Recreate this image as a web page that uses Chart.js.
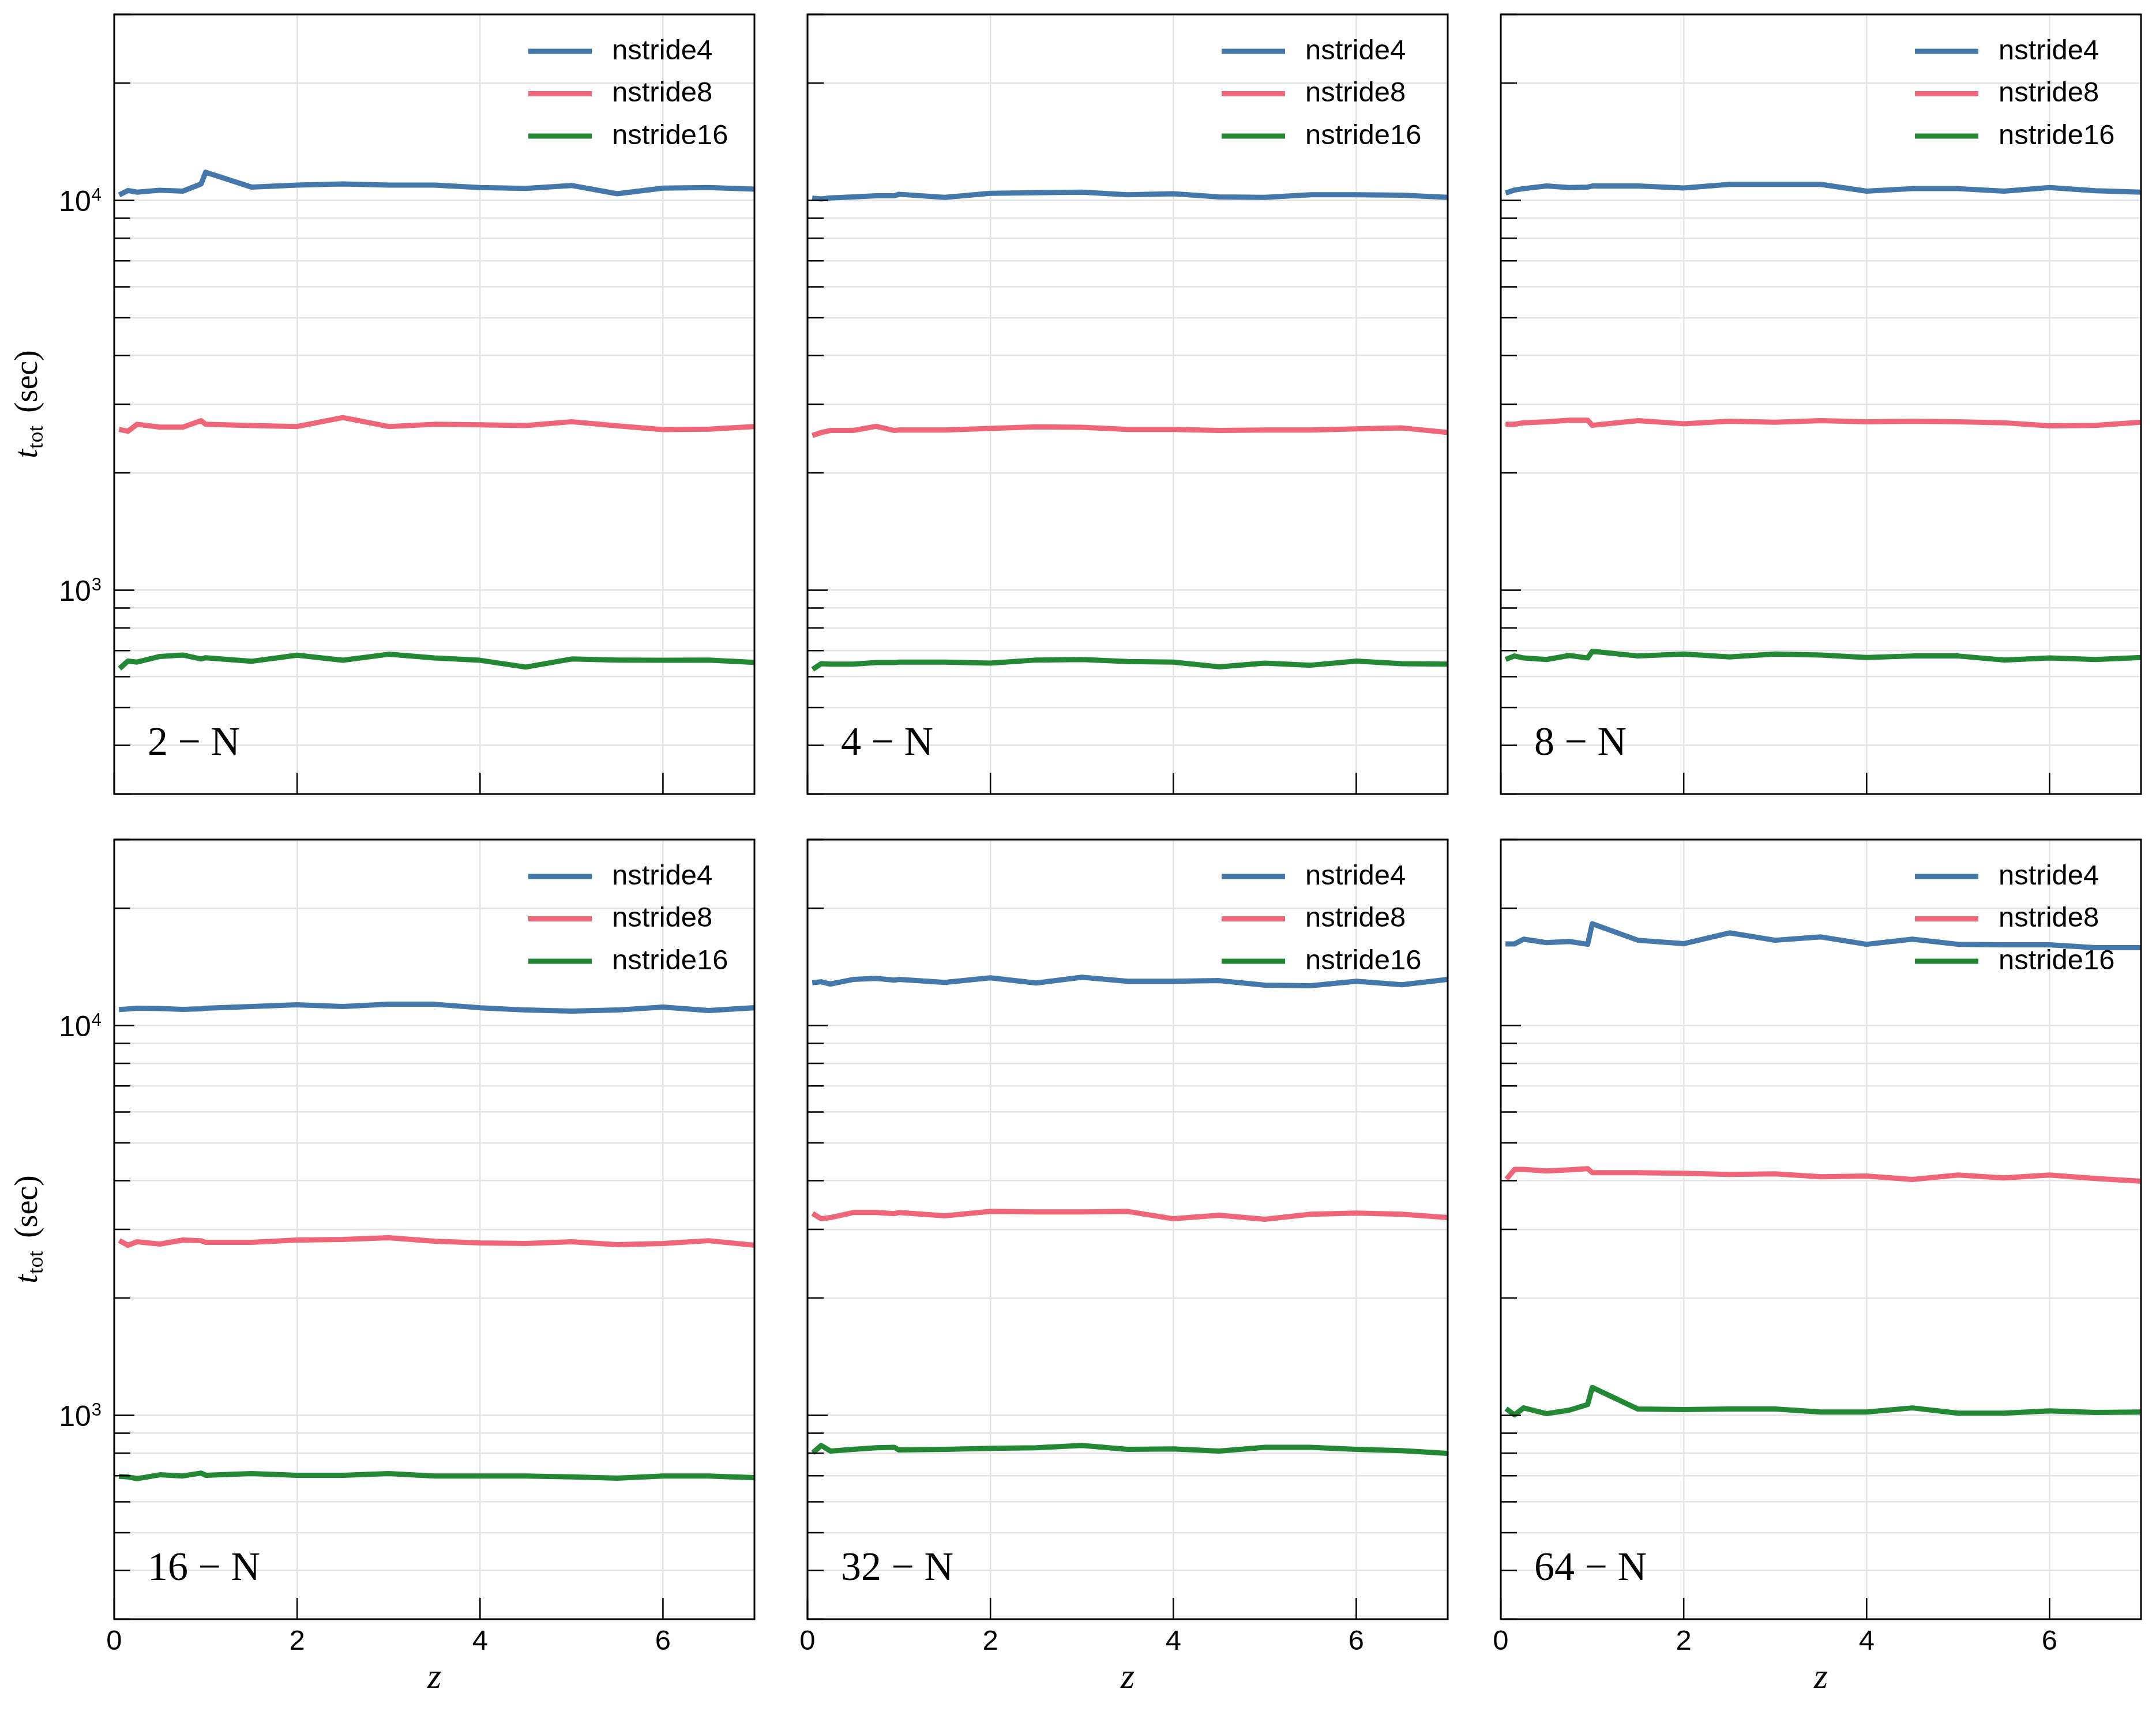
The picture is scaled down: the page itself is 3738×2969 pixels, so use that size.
<!DOCTYPE html>
<html>
<head>
<meta charset="utf-8">
<title>t_tot vs z</title>
<script src="https://cdn.jsdelivr.net/npm/chart.js@4.4.1/dist/chart.umd.min.js"></script>
<style>
  html, body { margin: 0; padding: 0; background: #fff; }
  #figure { position: relative; width: 3738px; height: 2969px; background: #fff; overflow: hidden; }
  #figure canvas { position: absolute; }
</style>
</head>
<body>
<div id="figure"></div>
<script>
// redshift samples shared by every run
const redshift = [0.08, 0.15, 0.25, 0.5, 0.75, 0.95, 1.0, 1.5, 2, 2.5, 3, 3.5, 4, 4.5, 5, 5.5, 6, 6.5, 7];

const panelNames = ['2 \u2212 N', '4 \u2212 N', '8 \u2212 N', '16 \u2212 N', '32 \u2212 N', '64 \u2212 N'];
const seriesLabels = ['nstride4', 'nstride8', 'nstride16'];
const seriesColors = ['#4477AA', '#EE6677', '#228833'];

// t_tot (sec) per panel
const n2_stride4  = [10400, 10600, 10500, 10620, 10560, 11020, 11810, 10820, 10950, 11020, 10950, 10950, 10790, 10730, 10920, 10400, 10750, 10790, 10690];
const n2_stride8  = [2577, 2557, 2664, 2620, 2620, 2723, 2664, 2645, 2630, 2773, 2630, 2664, 2655, 2645, 2705, 2640, 2582, 2590, 2630];
const n2_stride16 = [636, 658, 654, 676, 682, 666, 671, 657, 681, 661, 685, 670, 661, 635, 666, 662, 661, 662, 653];

const n4_stride4  = [10120, 10090, 10150, 10210, 10280, 10280, 10370, 10180, 10430, 10460, 10500, 10340, 10400, 10210, 10180, 10340, 10340, 10310, 10180];
const n4_stride8  = [2507, 2538, 2569, 2569, 2633, 2569, 2576, 2576, 2600, 2624, 2617, 2585, 2585, 2569, 2576, 2576, 2593, 2608, 2538];
const n4_stride16 = [632, 648, 646, 646, 652, 652, 654, 654, 650, 662, 664, 656, 654, 636, 650, 642, 658, 648, 646];

const n8_stride4  = [10500, 10630, 10720, 10890, 10790, 10820, 10890, 10890, 10760, 10990, 10990, 10990, 10560, 10720, 10720, 10560, 10790, 10590, 10500];
const n8_stride8  = [2665, 2665, 2689, 2704, 2729, 2729, 2648, 2722, 2673, 2714, 2697, 2722, 2704, 2714, 2704, 2689, 2640, 2648, 2697];
const n8_stride16 = [668, 678, 670, 664, 680, 670, 697, 678, 686, 674, 686, 682, 672, 678, 678, 662, 670, 664, 672];

const n16_stride4  = [11000, 11030, 11080, 11060, 11000, 11040, 11080, 11190, 11310, 11190, 11340, 11340, 11110, 10960, 10890, 10960, 11150, 10930, 11110];
const n16_stride8  = [2788, 2732, 2788, 2750, 2817, 2806, 2779, 2779, 2817, 2826, 2855, 2797, 2769, 2760, 2788, 2741, 2760, 2806, 2732];
const n16_stride16 = [697, 695, 688, 704, 699, 711, 702, 709, 702, 702, 709, 699, 699, 699, 695, 690, 699, 699, 692];

const n32_stride4  = [12900, 12950, 12780, 13130, 13210, 13080, 13130, 12900, 13260, 12860, 13300, 12990, 12990, 13040, 12690, 12650, 12990, 12730, 13130];
const n32_stride8  = [3270, 3194, 3216, 3314, 3314, 3292, 3314, 3249, 3336, 3325, 3325, 3336, 3194, 3260, 3184, 3281, 3303, 3281, 3216];
const n32_stride16 = [810, 837, 810, 818, 826, 828, 815, 818, 823, 826, 837, 818, 820, 810, 828, 828, 818, 812, 799];

const n64_stride4  = [16200, 16200, 16660, 16320, 16430, 16160, 18240, 16550, 16220, 17290, 16550, 16880, 16160, 16660, 16160, 16110, 16110, 15840, 15840];
const n64_stride8  = [4083, 4274, 4274, 4235, 4264, 4295, 4193, 4193, 4179, 4150, 4165, 4095, 4110, 4027, 4137, 4066, 4137, 4052, 3987];
const n64_stride16 = [1031, 1003, 1045, 1010, 1031, 1066, 1179, 1038, 1035, 1038, 1038, 1020, 1020, 1045, 1013, 1013, 1027, 1017, 1020];

const panelSeries = [
    [n2_stride4, n2_stride8, n2_stride16],
    [n4_stride4, n4_stride8, n4_stride16],
    [n8_stride4, n8_stride8, n8_stride16],
    [n16_stride4, n16_stride8, n16_stride16],
    [n32_stride4, n32_stride8, n32_stride16],
    [n64_stride4, n64_stride8, n64_stride16]
];

// axes
const xTickValues = [0, 2, 4, 6];
const yTickValues = [300, 400, 500, 600, 700, 800, 900, 1000, 2000, 3000, 4000, 5000, 6000, 7000, 8000, 9000, 10000, 20000, 30000];
const yLabelValues = [1000, 10000];

// figure layout (px)
const plotLefts = [198, 1400, 2602];
const plotTops = [25, 1456];
const plotW = 1110;
const plotH = 1352;
const axisW = 198;
const padTop = 25;
const padRight = 25;
const figH = 2969;

function strokeLine(ctx, x1, y1, x2, y2) {
    ctx.beginPath();
    ctx.moveTo(x1, y1);
    ctx.lineTo(x2, y2);
    ctx.stroke();
}

// ticks inside, frame, panel tag, legend, y labels
const panelDecor = {
    id: 'panelDecor',
    afterDraw(chart, args, opts) {
        const ctx = chart.ctx;
        const a = chart.chartArea;
        const x = chart.scales.x;
        const y = chart.scales.y;
        ctx.save();

        ctx.strokeStyle = '#000';
        ctx.lineWidth = 2.5;
        yTickValues.forEach(function (v) {
            const py = y.getPixelForValue(v);
            const len = yLabelValues.includes(v) ? 35 : 28;
            strokeLine(ctx, a.left, py, a.left + len, py);
        });
        xTickValues.forEach(function (v) {
            const px = x.getPixelForValue(v);
            strokeLine(ctx, px, a.bottom, px, a.bottom - 37);
        });

        ctx.lineWidth = 3;
        ctx.strokeRect(a.left, a.top, a.right - a.left, a.bottom - a.top);

        ctx.fillStyle = '#000';
        ctx.font = '70px "Liberation Serif"';
        ctx.textAlign = 'left';
        ctx.textBaseline = 'alphabetic';
        ctx.fillText(opts.name, a.left + 58, a.bottom - 68);

        // legend
        chart.data.datasets.forEach(function (ds, i) {
            const ly = a.top + 64 + i * 73.5;
            ctx.strokeStyle = ds.borderColor;
            ctx.lineWidth = 9;
            ctx.lineCap = 'butt';
            strokeLine(ctx, a.right - 392, ly, a.right - 282, ly);
            ctx.fillStyle = '#000';
            ctx.font = '49px "Liberation Sans"';
            ctx.textBaseline = 'middle';
            ctx.fillText(ds.label, a.right - 247, ly);
        });

        if (opts.leftColumn) {
            yLabelValues.forEach(function (v) {
                const py = y.getPixelForValue(v);
                const exp = String(Math.round(Math.log10(v)));
                ctx.textBaseline = 'alphabetic';
                ctx.textAlign = 'right';
                ctx.font = '31px "Liberation Sans"';
                const right = a.left - 22;
                ctx.fillText(exp, right, py);
                const supW = ctx.measureText(exp).width;
                ctx.font = '50px "Liberation Sans"';
                ctx.fillText('10', right - supW - 1, py + 18);
            });

            // y title: t_tot (sec)
            const parts = [
                { text: 't', font: 'italic 56px "Liberation Serif"', dy: 0, gap: 0 },
                { text: 'tot', font: '38px "Liberation Serif"', dy: 10, gap: 1 },
                { text: '(sec)', font: '56px "Liberation Serif"', dy: 0, gap: 22 }
            ];
            let total = 0;
            parts.forEach(function (p) {
                ctx.font = p.font;
                p.w = ctx.measureText(p.text).width;
                total += p.gap + p.w;
            });
            ctx.translate(64, (a.top + a.bottom) / 2);
            ctx.rotate(-Math.PI / 2);
            ctx.textAlign = 'left';
            ctx.textBaseline = 'alphabetic';
            let cx = -total / 2;
            parts.forEach(function (p) {
                cx += p.gap;
                ctx.font = p.font;
                ctx.fillText(p.text, cx, p.dy);
                cx += p.w;
            });
        }
        ctx.restore();
    }
};

document.addEventListener('DOMContentLoaded', function () {
    const fig = document.getElementById('figure');

    panelNames.forEach(function (name, p) {
        const col = p % 3;
        const row = Math.floor(p / 3);
        const bottomRow = row === 1;
        const xAxisH = bottomRow ? figH - (plotTops[1] + plotH) : 40;

        const canvas = document.createElement('canvas');
        const w = axisW + plotW + padRight;
        const h = padTop + plotH + xAxisH;
        canvas.width = w;
        canvas.height = h;
        canvas.style.width = w + 'px';
        canvas.style.height = h + 'px';
        canvas.style.left = (plotLefts[col] - axisW) + 'px';
        canvas.style.top = (plotTops[row] - padTop) + 'px';
        fig.appendChild(canvas);

        const datasets = panelSeries[p].map(function (vals, i) {
            return {
                label: seriesLabels[i],
                data: redshift.map(function (z, k) { return { x: z, y: vals[k] }; }),
                borderColor: seriesColors[i],
                backgroundColor: seriesColors[i],
                borderWidth: 9,
                borderJoinStyle: 'round',
                borderCapStyle: 'square',
                pointRadius: 0,
                fill: false,
                tension: 0
            };
        });

        new Chart(canvas, {
            type: 'line',
            data: { datasets: datasets },
            options: {
                responsive: false,
                animation: false,
                devicePixelRatio: 1,
                events: [],
                layout: { padding: { top: padTop, right: padRight, left: 0, bottom: 0 } },
                plugins: {
                    legend: { display: false },
                    tooltip: { enabled: false },
                    panelDecor: { name: name, leftColumn: col === 0 }
                },
                scales: {
                    x: {
                        type: 'linear',
                        min: 0,
                        max: 7,
                        bounds: 'data',
                        afterBuildTicks: function (s) {
                            s.ticks = xTickValues.map(function (v) { return { value: v }; });
                        },
                        afterFit: function (s) { s.height = xAxisH; },
                        grid: { color: '#e3e3e3', lineWidth: 2.5, drawTicks: false },
                        border: { display: false },
                        ticks: {
                            display: bottomRow,
                            color: '#000',
                            padding: 10,
                            maxRotation: 0,
                            font: { family: 'Liberation Sans', size: 49 }
                        },
                        title: {
                            display: bottomRow,
                            text: 'z',
                            color: '#000',
                            padding: { top: 0, bottom: 21 },
                            font: { family: 'Liberation Serif', size: 62, style: 'italic' }
                        }
                    },
                    y: {
                        type: 'logarithmic',
                        min: 300,
                        max: 30000,
                        bounds: 'data',
                        afterBuildTicks: function (s) {
                            s.ticks = yTickValues.map(function (v) { return { value: v }; });
                        },
                        afterFit: function (s) { s.width = axisW; },
                        grid: { color: '#e3e3e3', lineWidth: 2.5, drawTicks: false },
                        border: { display: false },
                        ticks: { display: false }
                    }
                }
            },
            plugins: [panelDecor]
        });
    });
});
</script>
</body>
</html>
